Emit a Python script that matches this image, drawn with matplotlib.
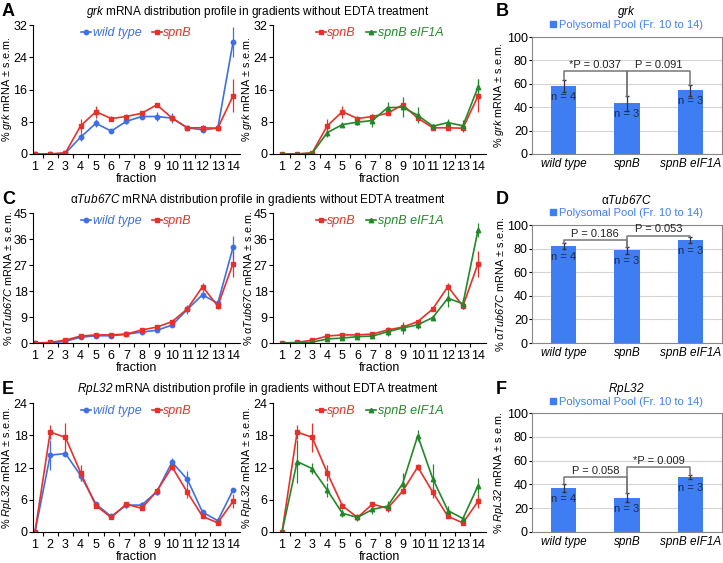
import numpy as np
import matplotlib
matplotlib.use("Agg")
import matplotlib.pyplot as plt
from matplotlib.lines import Line2D

plt.rcParams['font.family'] = ['Liberation Sans', 'DejaVu Sans']
plt.rcParams['mathtext.fontset'] = 'custom'
plt.rcParams['mathtext.rm'] = 'Liberation Sans'
# italic gene names (digits too) go through the sf slot
plt.rcParams['mathtext.sf'] = 'Liberation Sans:italic'

# fraction numbers
fractions = np.arange(1, 15)

# grk profile (% mRNA, s.e.m.)
grk_wt = [0, 0, 0.2, 4.2, 7.6, 5.7, 8.1, 9.3, 9.3, 8.9, 6.5, 6.0, 6.4, 27.7]
grk_wt_err = [0, 0, 0.1, 1.0, 1.0, 0.5, 0.7, 0.6, 1.0, 1.2, 0.5, 0.5, 0.4, 3.7]
grk_spnb = [0, 0, 0.3, 7.0, 10.5, 8.8, 9.3, 10.1, 12.2, 8.9, 6.5, 6.5, 6.4, 14.4]
grk_spnb_err = [0, 0, 0.1, 1.7, 1.5, 0.6, 0.5, 0.4, 0.5, 0.6, 0.5, 0.6, 0.4, 4.1]
grk_eif = [0, 0, 0.2, 5.3, 7.3, 7.9, 8.3, 11.5, 11.6, 9.6, 6.9, 7.8, 7.0, 16.6]
grk_eif_err = [0, 0, 0.1, 1.0, 0.6, 0.6, 1.5, 1.5, 2.5, 2.0, 0.5, 1.0, 1.5, 2.0]

# alphaTub67C profile
tub_wt = [0, 0, 0.6, 2.0, 2.5, 2.5, 3.0, 3.8, 4.4, 6.2, 11.6, 16.7, 13.7, 33.1]
tub_wt_err = [0, 0, 0.2, 0.3, 0.3, 0.3, 0.3, 0.4, 0.6, 0.6, 1.5, 1.5, 0.8, 4.0]
tub_spnb = [0, 0.2, 1.0, 2.4, 2.8, 2.8, 3.1, 4.5, 5.5, 7.4, 11.8, 19.5, 12.8, 27.5]
tub_spnb_err = [0, 0, 0.2, 0.3, 0.3, 0.3, 0.3, 0.5, 0.5, 0.7, 0.6, 1.3, 1.0, 4.5]
tub_eif = [0, 0, 0.3, 1.4, 1.7, 2.2, 2.4, 3.9, 5.2, 6.3, 8.8, 15.5, 13.6, 39.1]
tub_eif_err = [0, 0, 0.2, 0.3, 0.3, 0.3, 0.4, 1.5, 2.0, 1.5, 0.8, 3.0, 2.0, 2.5]

# RpL32 profile
rpl_wt = [0, 14.3, 14.6, 10.5, 5.2, 2.9, 5.0, 5.0, 7.5, 13.0, 9.8, 3.7, 2.1, 7.8]
rpl_wt_err = [0, 2.8, 0.5, 1.0, 0.4, 0.3, 0.6, 0.6, 0.6, 0.8, 1.5, 0.4, 0.2, 0.4]
rpl_spnb = [0, 18.6, 17.6, 11.0, 4.9, 2.7, 5.2, 4.4, 7.6, 12.1, 7.4, 2.9, 1.7, 5.7]
rpl_spnb_err = [0, 1.3, 2.7, 1.5, 0.5, 0.3, 0.3, 0.3, 0.3, 0.6, 1.0, 0.3, 0.2, 1.3]
rpl_eif = [0, 13.1, 11.8, 7.8, 3.5, 2.7, 4.2, 4.8, 9.0, 17.9, 9.9, 4.0, 2.5, 8.6]
rpl_eif_err = [0, 4.0, 1.0, 1.3, 0.8, 0.6, 0.8, 1.0, 2.0, 1.0, 2.7, 0.8, 0.5, 1.5]

# polysomal pool (fractions 10-14)
genotypes = ['wild type', 'spnB', 'spnB eIF1A']
n_flies = [4, 3, 3]
grk_pool = [58, 43.5, 54.5]
grk_pool_err = [5, 6.4, 4.5]
tub_pool = [82.3, 78.6, 87.2]
tub_pool_err = [2.5, 3, 2.5]
rpl_pool = [37, 28.8, 46.2]
rpl_pool_err = [3.5, 4, 2]
grk_pvals = [(0, 1, 70.7, '*P = 0.037'), (1, 2, 70.7, 'P = 0.091')]
tub_pvals = [(0, 1, 87, 'P = 0.186'), (1, 2, 91, 'P = 0.053')]
rpl_pvals = [(0, 1, 46.2, 'P = 0.058'), (1, 2, 54.3, '*P = 0.009')]

BLUE = '#3f6fe6'
RED = '#e8302a'
GREEN = '#23882a'
BAR = '#3f7ef2'

W, H = 723, 563
fig = plt.figure(figsize=(W / 100, H / 100), dpi=100)


def px_axes(left, top, right, bottom):
    return fig.add_axes([left / W, 1 - bottom / H, (right - left) / W, (bottom - top) / H])


def profile(ax, series, ymax, ystep, ylabel, xlim, lab_x):
    handles = []
    for y, e, col, mk, lab in series:
        ax.errorbar(fractions, y, yerr=e, color=col, marker=mk, ms=3.2, lw=1.2,
                    elinewidth=0.9, capsize=0)
        handles.append(Line2D([], [], color=col, marker=mk, ms=3.2, lw=1.2, label=lab))
    ax.set_xlim(*xlim)
    ax.set_ylim(0, ymax)
    ax.set_yticks(np.arange(0, ymax + 1, ystep))
    ax.set_xticks(fractions)
    ax.set_xticks(fractions[:-1] + 0.5, minor=True)
    ax.tick_params(axis='x', which='major', length=0, labelsize=9, pad=5)
    ax.tick_params(axis='x', which='minor', length=3, width=0.8)
    ax.tick_params(axis='y', length=3, width=0.8, labelsize=9, pad=1)
    for s in ['top', 'right']:
        ax.spines[s].set_visible(False)
    ax.set_xlabel('fraction', fontsize=9, labelpad=0)
    ax.set_ylabel(ylabel, fontsize=7.8)
    ax.yaxis.set_label_coords(lab_x, 0.5)
    ax.legend(handles=handles, loc='upper center', bbox_to_anchor=(0.5, 1.07), ncol=2,
              frameon=False, handlelength=0.8, handletextpad=0.15, columnspacing=0.8,
              labelcolor='linecolor', prop={'style': 'italic', 'size': 9})


def pool(ax, vals, errs, pvals, title, ylabel, ty):
    x = np.arange(3)
    ax.bar(x, vals, width=0.4, color=BAR, zorder=2)
    ax.errorbar(x, vals, yerr=errs, fmt='none', ecolor='#333333', elinewidth=0.9,
                capsize=1.5, zorder=3)
    for xi, v, n in zip(x, vals, n_flies):
        ax.annotate(f'n = {n}', (xi, v), xytext=(0, -8), textcoords='offset points',
                    ha='center', va='center', fontsize=8, color='#1b2a55', zorder=4)
    for a, b, h, txt in pvals:
        ta = vals[a] + errs[a]
        tb = vals[b] + errs[b]
        ax.plot([a, a, b, b], [ta, h, h, tb], color='#777777', lw=1.1, zorder=3)
        ax.text((a + b) / 2, h + 1, txt, ha='center', va='bottom', fontsize=8, color='#222222')
    ax.set_xlim(-0.5, 2.5)
    ax.set_ylim(0, 100)
    ax.set_yticks(np.arange(0, 101, 20))
    ax.grid(axis='y', color='#d4d4d4', lw=0.8, zorder=0)
    ax.set_xticks(x)
    ax.set_xticklabels(genotypes, style='italic', fontsize=8.5)
    ax.tick_params(axis='x', length=0, pad=3)
    ax.tick_params(axis='y', length=2, labelsize=9, pad=1)
    for s in ax.spines.values():
        s.set_color('#888888')
    ax.set_ylabel(ylabel, fontsize=7.8)
    ax.yaxis.set_label_coords(-0.135, 0.5)
    fig.text(626 / W, 1 - ty / H, title, ha='center', va='center', fontsize=8.5)
    ax.legend(handles=[Line2D([], [], ls='none', marker='s', ms=4, color=BAR,
                              label='Polysomal Pool (Fr. 10 to 14)')],
              loc='center', bbox_to_anchor=(626 / W, 1 - (ty + 13) / H),
              bbox_transform=fig.transFigure, frameon=False,
              handletextpad=0.1, handlelength=0.8, fontsize=8, labelcolor=BAR)


xl_left = (0.87, 14.46)
xl_right = (0.40, 14.53)

rows = [
    (25, 154, 37, 32, 8, r'% $\mathsf{grk}$ mRNA ± s.e.m.',
     (grk_wt, grk_wt_err), (grk_spnb, grk_spnb_err), (grk_eif, grk_eif_err),
     grk_pool, grk_pool_err, grk_pvals, r'$\mathsf{grk}$',
     r'$\mathsf{grk}$ mRNA distribution profile in gradients without EDTA treatment', 12, 'A', 'B'),
    (213, 343, 225, 45, 9, r'% α$\mathsf{Tub67C}$ mRNA ± s.e.m.',
     (tub_wt, tub_wt_err), (tub_spnb, tub_spnb_err), (tub_eif, tub_eif_err),
     tub_pool, tub_pool_err, tub_pvals, r'α$\mathsf{Tub67C}$',
     r'α$\mathsf{Tub67C}$ mRNA distribution profile in gradients without EDTA treatment', 200, 'C', 'D'),
    (403, 532, 413, 24, 6, r'% $\mathsf{RpL32}$ mRNA ± s.e.m.',
     (rpl_wt, rpl_wt_err), (rpl_spnb, rpl_spnb_err), (rpl_eif, rpl_eif_err),
     rpl_pool, rpl_pool_err, rpl_pvals, r'$\mathsf{RpL32}$',
     r'$\mathsf{RpL32}$ mRNA distribution profile in gradients without EDTA treatment', 389, 'E', 'F'),
]

for (top, bot, btop, ymax, ystep, ylab, wt, sp, ei, pv, pe, pp, btitle, rtitle, ty, l1, l2) in rows:
    ax1 = px_axes(33, top, 240, bot)
    profile(ax1, [(wt[0], wt[1], BLUE, 'o', 'wild type'), (sp[0], sp[1], RED, 's', 'spnB')],
            ymax, ystep, ylab, xl_left, -0.092)
    ax2 = px_axes(273, top, 486, bot)
    profile(ax2, [(sp[0], sp[1], RED, 's', 'spnB'), (ei[0], ei[1], GREEN, '^', 'spnB eIF1A')],
            ymax, ystep, ylab, xl_right, -0.09)
    ax3 = px_axes(532, btop, 722, bot)
    pool(ax3, pv, pe, pp, btitle, ylab, ty)
    fig.text(258 / W, 1 - ty / H, rtitle, ha='center', va='center', fontsize=8.5)
    fig.text(2 / W, 1 - ty / H, l1, ha='left', va='center', fontsize=13, fontweight='bold')
    fig.text(496 / W, 1 - ty / H, l2, ha='left', va='center', fontsize=13, fontweight='bold')

fig.savefig('out.png', dpi=100)
